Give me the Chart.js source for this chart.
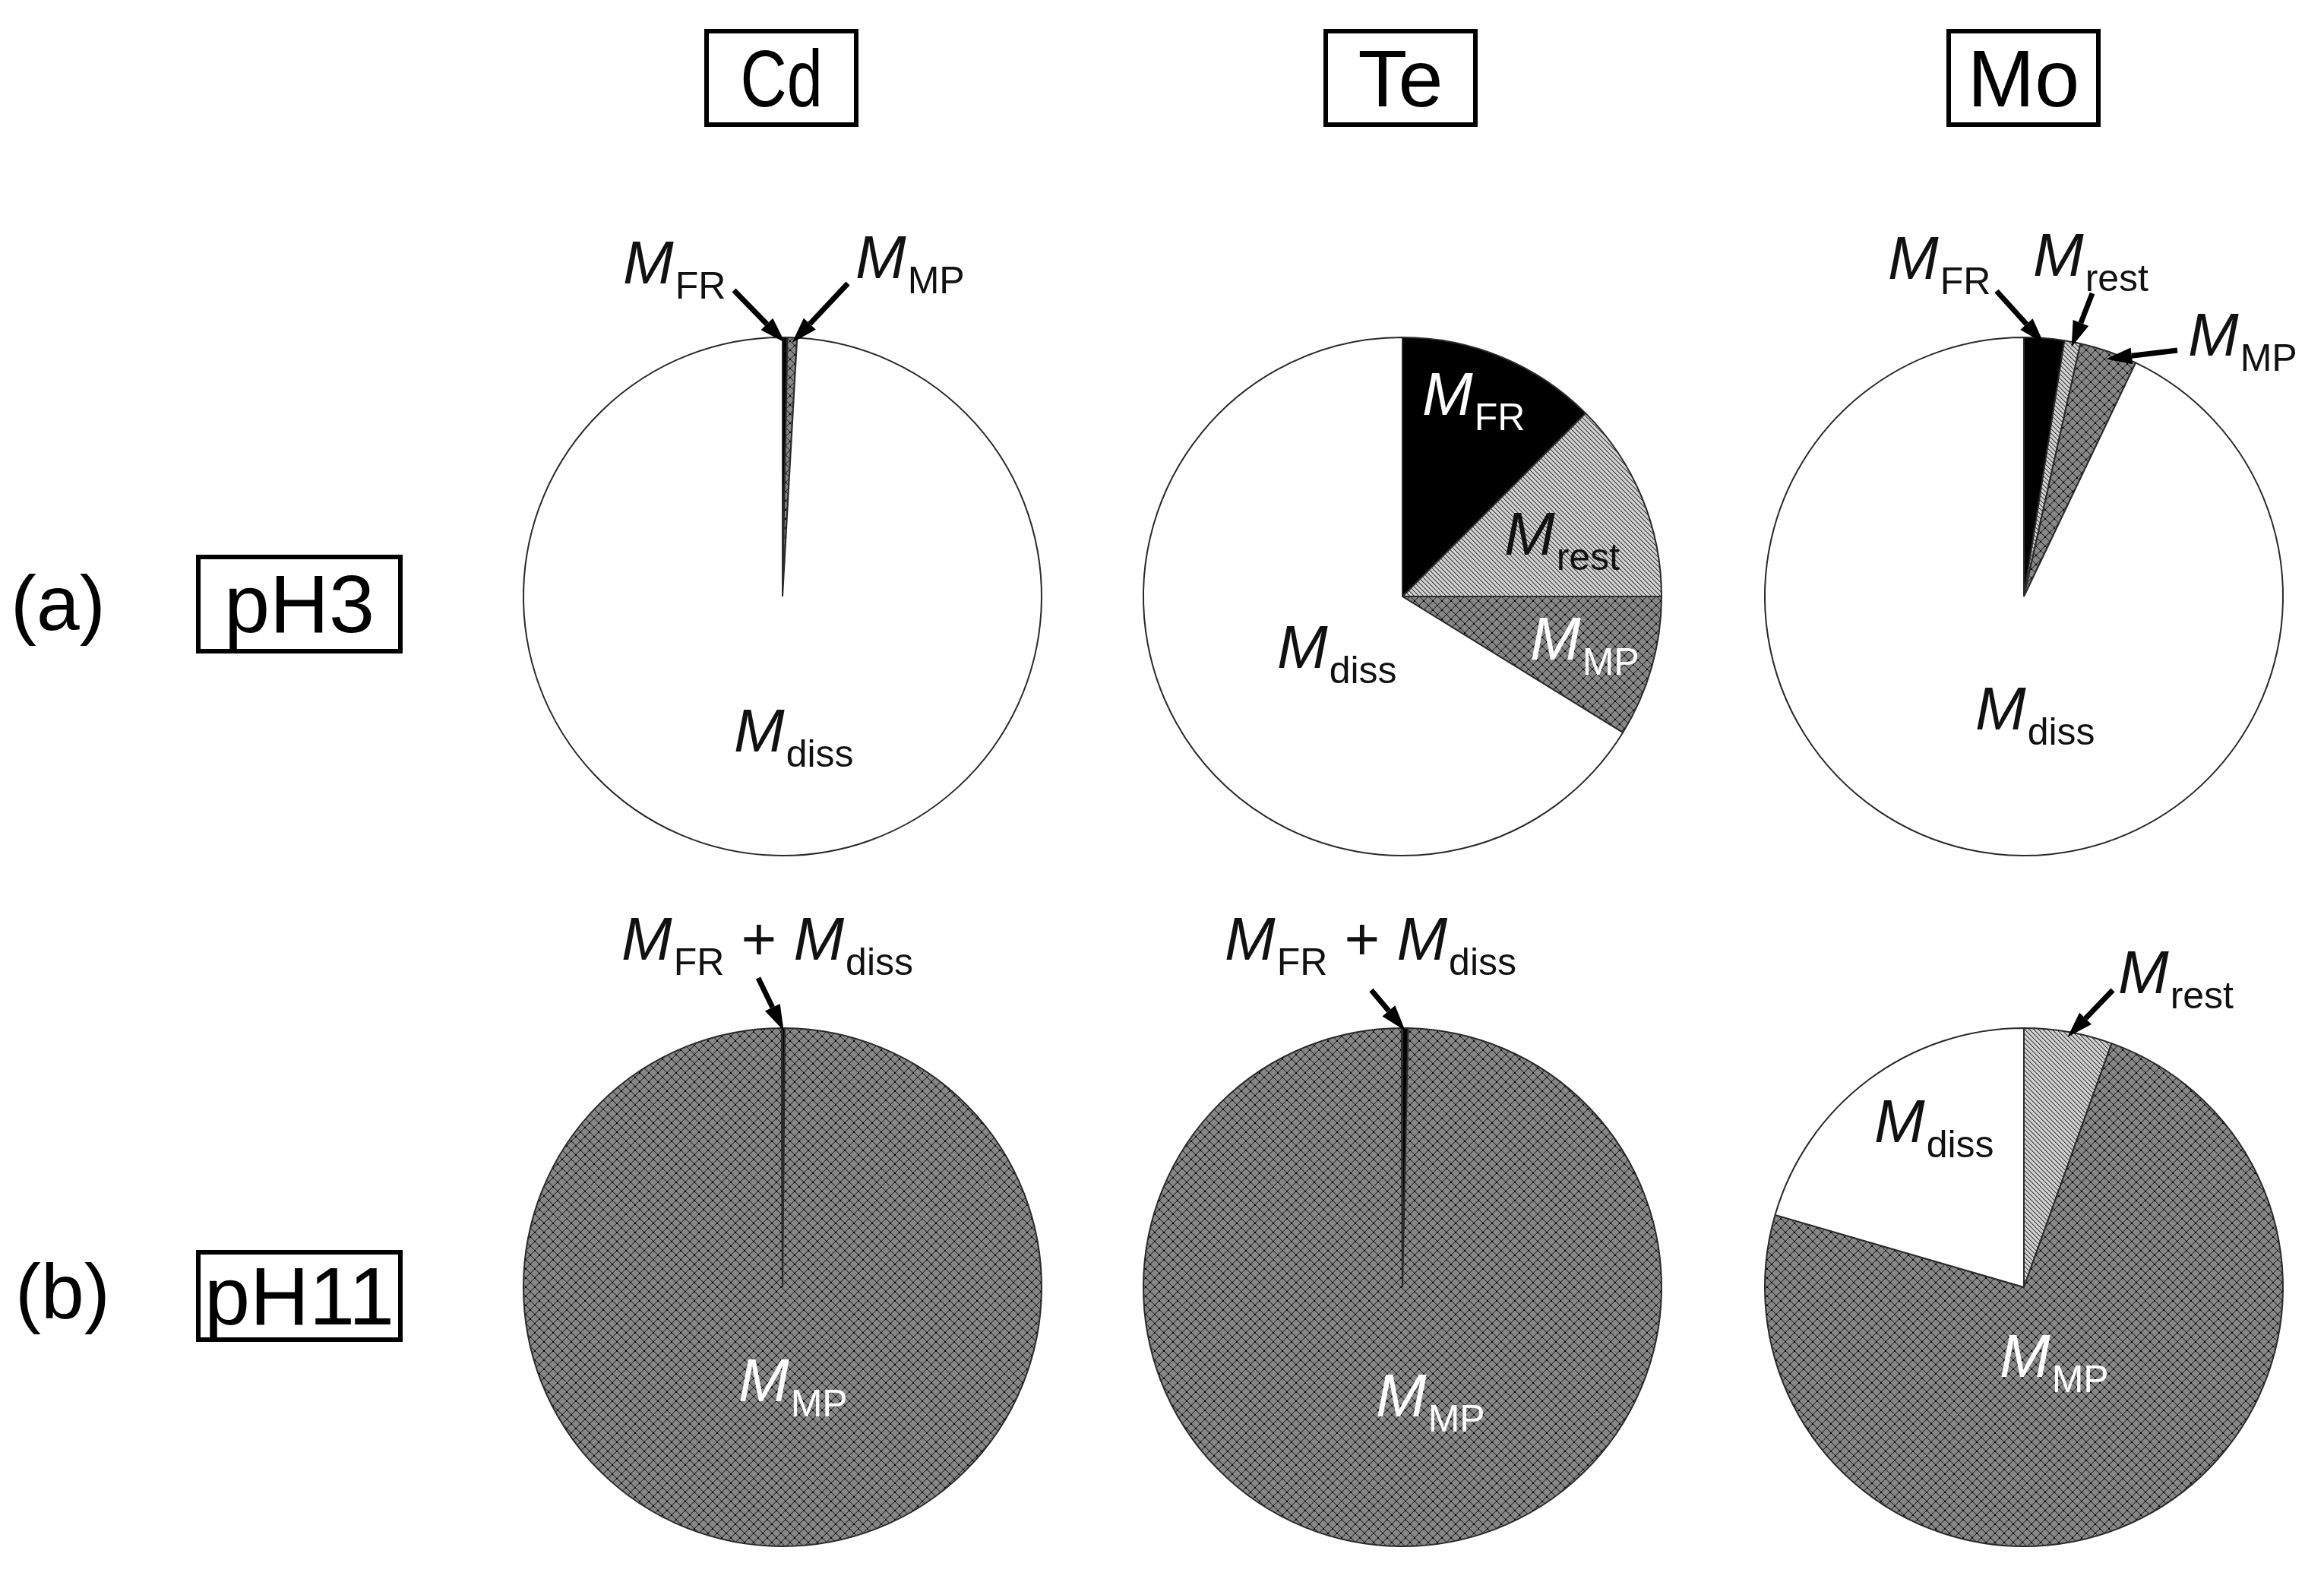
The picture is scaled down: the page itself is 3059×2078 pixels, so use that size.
<html>

<head>
    <title>Mass fractions Cd Te Mo</title>
    <script src="https://cdn.jsdelivr.net/npm/chart.js"></script>
    <style>
        body {
            margin: 0;
            width: 3059px;
            height: 2078px;
            position: relative;
            overflow: hidden;
            background: #fff;
            font-family: "Liberation Sans", Arial, sans-serif;
            color: #000;
        }

        .box {
            position: absolute;
            border: 6px solid #000;
            box-sizing: border-box;
            display: flex;
            align-items: center;
            justify-content: center;
            font-size: 106px;
            line-height: 1;
        }

        .tag {
            position: absolute;
            font-size: 102px;
            line-height: 1;
        }

        canvas {
            position: absolute;
        }
    </style>
</head>

<body>
    <div class="box" style="left:927px;top:38px;width:203px;height:129px"><span style="display:inline-block;transform:scaleX(0.8)">Cd</span></div>
    <div class="box" style="left:1742px;top:38px;width:203px;height:129px">Te</div>
    <div class="box" style="left:2562px;top:38px;width:203px;height:129px">Mo</div>

    <div class="tag" style="left:14px;top:743px">(a)</div>
    <div class="tag" style="left:20px;top:1649px">(b)</div>
    <div class="box" style="left:258px;top:730px;width:272px;height:130px;font-size:108px">pH3</div>
    <div class="box" style="left:258px;top:1645px;width:272px;height:121px;font-size:108px">pH11</div>
</body>
<script>
    // slices go clockwise from 12 o'clock in this order
    const categories = ['M_FR', 'M_rest', 'M_MP', 'M_diss']

    // percent of total mass
    const cdPH3 = [0.3, 0, 0.6, 99.1]
    const tePH3 = [12.5, 12.5, 8.8, 66.2]
    const moPH3 = [2.5, 1.0, 3.6, 92.9]
    const cdPH11 = [0.15, 0, 99.8, 0.05]
    const tePH11 = [0.35, 0, 99.6, 0.05]
    const moPH11 = [0, 5.5, 74.0, 20.5]

    const pieX = [1030, 1846, 2664]
    const pieY = [785, 1694]
    const R = 341
    const CW = 820
    const CH = 900
    const PAD_TOP = 180

    // hatch fills
    const makeTile = (size, draw) => {
        const t = document.createElement('canvas')
        t.width = size
        t.height = size
        draw(t.getContext('2d'), size)
        return document.createElement('canvas').getContext('2d').createPattern(t, 'repeat')
    }

    const restFill = makeTile(6, (c, s) => {
        c.fillStyle = '#d0d0d0'
        c.fillRect(0, 0, s, s)
        c.fillStyle = '#404040'
        for (let i = 0; i < s; i++) c.fillRect(i, i, 1, 1)
        c.fillStyle = '#8a8a8a'
        for (let i = 0; i < s; i++) c.fillRect((i + 1) % s, i, 1, 1)
    })

    const mpFill = makeTile(12, (c, s) => {
        c.fillStyle = '#878787'
        c.fillRect(0, 0, s, s)
        c.fillStyle = '#3a3a3a'
        for (let i = 0; i < s; i++) {
            c.fillRect(i, i, 1, 1)
            c.fillRect(s - 1 - i, i, 1, 1)
        }
        c.fillStyle = '#5a5a5a'
        for (let i = 0; i < s; i++) {
            c.fillRect((i + 1) % s, i, 1, 1)
            c.fillRect((2 * s - 2 - i) % s, i, 1, 1)
        }
        c.fillStyle = '#000'
        c.fillRect(5, 5, 2, 2)
        c.fillRect(0, 0, 1, 1)
        c.fillRect(s - 1, 0, 1, 1)
        c.fillRect(0, s - 1, 1, 1)
        c.fillRect(s - 1, s - 1, 1, 1)
    })

    const fills = ['#000000', restFill, mpFill, '#ffffff']

    const M = (sub) => [{ t: 'M', it: true }, { t: sub, sub: true }]

    // label spots are offsets from the pie centre (baseline of the M)
    const notes = {
        cdPH3: {
            labels: [
                { parts: M('FR'), dx: -210, dy: -412 },
                { parts: M('MP'), dx: 96, dy: -419 },
                { parts: M('diss'), dx: -64, dy: 204 }
            ],
            arrows: [
                { seg: 0, from: [-64, -403], rf: 0.98 },
                { seg: 2, from: [86, -412], rf: 0.98 }
            ]
        },
        tePH3: {
            labels: [
                { parts: M('FR'), dx: 26, dy: -239, color: '#fff' },
                { parts: M('rest'), dx: 134, dy: -55 },
                { parts: M('MP'), dx: 168, dy: 83, color: '#fff' },
                { parts: M('diss'), dx: -165, dy: 94 }
            ],
            arrows: []
        },
        moPH3: {
            labels: [
                { parts: M('FR'), dx: -179, dy: -418 },
                { parts: M('rest'), dx: 12, dy: -422 },
                { parts: M('MP'), dx: 216, dy: -317 },
                { parts: M('diss'), dx: -64, dy: 175 }
            ],
            arrows: [
                { seg: 0, from: [-36, -402], rf: 0.98 },
                { seg: 1, from: [90, -399], rf: 0.98 },
                { seg: 2, from: [202, -324], rf: 0.97 }
            ]
        },
        cdPH11: {
            labels: [
                { parts: [...M('FR'), { t: ' + ' }, ...M('diss')], dx: -212, dy: -431 },
                { parts: M('MP'), dx: -58, dy: 150, color: '#fff' }
            ],
            arrows: [
                { seg: 0, from: [-32, -407], rf: 0.99 }
            ]
        },
        tePH11: {
            labels: [
                { parts: [...M('FR'), { t: ' + ' }, ...M('diss')], dx: -234, dy: -431 },
                { parts: M('MP'), dx: -35, dy: 170, color: '#fff' }
            ],
            arrows: [
                { seg: 0, from: [-41, -391], rf: 0.99 }
            ]
        },
        moPH11: {
            labels: [
                { parts: M('rest'), dx: 124, dy: -387 },
                { parts: M('diss'), dx: -197, dy: -191 },
                { parts: M('MP'), dx: -32, dy: 118, color: '#fff' }
            ],
            arrows: [
                { seg: 1, from: [117, -391], rf: 0.98 }
            ]
        }
    }

    const FONT = '"Liberation Sans", Arial, sans-serif'
    const MAIN = 80
    const SUB = 50
    const SUB_DROP = 20

    const drawLabel = (ctx, x, y, parts, color) => {
        ctx.fillStyle = color || '#111'
        ctx.textBaseline = 'alphabetic'
        ctx.textAlign = 'left'
        let px = x
        for (const p of parts) {
            if (p.sub) {
                ctx.font = SUB + 'px ' + FONT
                ctx.fillText(p.t, px + 2, y + SUB_DROP)
                px += ctx.measureText(p.t).width + 2
            } else {
                ctx.font = (p.it ? 'italic ' : '') + MAIN + 'px ' + FONT
                ctx.fillText(p.t, px, y)
                px += ctx.measureText(p.t).width
            }
        }
    }

    const drawArrow = (ctx, x1, y1, x2, y2) => {
        const a = Math.atan2(y2 - y1, x2 - x1)
        const head = 34
        const half = 11
        const bx = x2 - head * Math.cos(a)
        const by = y2 - head * Math.sin(a)
        ctx.strokeStyle = '#000'
        ctx.fillStyle = '#000'
        ctx.lineWidth = 7
        ctx.lineCap = 'butt'
        ctx.beginPath()
        ctx.moveTo(x1, y1)
        ctx.lineTo(bx, by)
        ctx.stroke()
        ctx.beginPath()
        ctx.moveTo(x2, y2)
        ctx.lineTo(bx + half * Math.sin(a), by - half * Math.cos(a))
        ctx.lineTo(bx - half * Math.sin(a), by + half * Math.cos(a))
        ctx.closePath()
        ctx.fill()
    }

    const notesPlugin = (spec) => ({
        id: 'pieNotes',
        afterDraw(chart) {
            const ctx = chart.ctx
            const arcs = chart.getDatasetMeta(0).data
            const cx = arcs[0].x
            const cy = arcs[0].y
            const r = arcs[0].outerRadius
            ctx.save()
            for (const ar of spec.arrows) {
                const arc = arcs[ar.seg]
                const mid = (arc.startAngle + arc.endAngle) / 2
                const tx = cx + r * ar.rf * Math.cos(mid)
                const ty = cy + r * ar.rf * Math.sin(mid)
                drawArrow(ctx, cx + ar.from[0], cy + ar.from[1], tx, ty)
            }
            for (const lb of spec.labels) {
                drawLabel(ctx, cx + lb.dx, cy + lb.dy, lb.parts, lb.color)
            }
            ctx.restore()
        }
    })

    const pies = [
        { data: cdPH3, notes: notes.cdPH3, col: 0, row: 0 },
        { data: tePH3, notes: notes.tePH3, col: 1, row: 0 },
        { data: moPH3, notes: notes.moPH3, col: 2, row: 0 },
        { data: cdPH11, notes: notes.cdPH11, col: 0, row: 1 },
        { data: tePH11, notes: notes.tePH11, col: 1, row: 1 },
        { data: moPH11, notes: notes.moPH11, col: 2, row: 1 }
    ]

    for (const p of pies) {
        const cv = document.createElement('canvas')
        cv.width = CW
        cv.height = CH
        cv.style.left = (pieX[p.col] - CW / 2) + 'px'
        cv.style.top = (pieY[p.row] - PAD_TOP - (CH - PAD_TOP) / 2) + 'px'
        document.body.appendChild(cv)

        new Chart(cv.getContext('2d'), {
            type: 'pie',
            data: {
                labels: categories,
                datasets: [{
                    data: p.data,
                    backgroundColor: fills,
                    borderColor: '#2a2a2a',
                    borderWidth: 2,
                    radius: R
                }]
            },
            options: {
                responsive: false,
                animation: false,
                layout: { padding: { top: PAD_TOP } },
                plugins: {
                    legend: { display: false },
                    tooltip: { enabled: false }
                }
            },
            plugins: [notesPlugin(p.notes)]
        })
    }
</script>
</html>
